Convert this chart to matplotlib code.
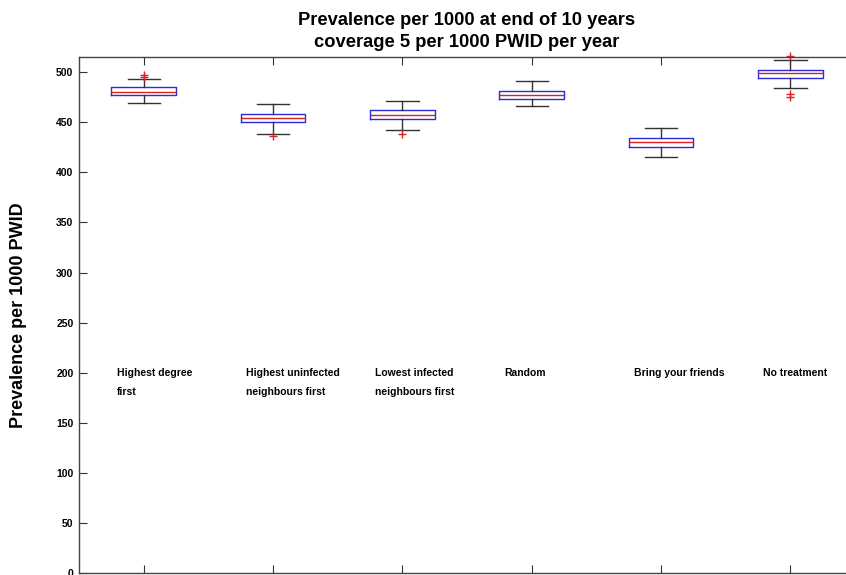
import matplotlib.pyplot as plt

# Strategy labels and the box summaries (prevalence per 1000 PWID)
strategies = [
    "Highest degree\nfirst",
    "Highest uninfected\nneighbours first",
    "Lowest infected\nneighbours first",
    "Random",
    "Bring your friends",
    "No treatment",
]
q1 = [476.8, 449.8, 452.8, 473.1, 425.2, 494.0]
medians = [480.4, 453.8, 457.4, 477.1, 429.9, 499.3]
q3 = [484.7, 458.4, 461.8, 481.1, 433.9, 502.0]
whisker_lo = [468.8, 437.9, 442.5, 465.8, 415.5, 484.3]
whisker_hi = [492.7, 467.8, 470.8, 491.3, 443.9, 512.0]
outliers = [[495.5, 497.0], [436.5], [437.9], [], [], [516.2, 475.5, 477.8]]

plt.rcParams["font.family"] = ["Liberation Sans", "DejaVu Sans"]

fig = plt.figure(figsize=(8.46, 5.75), dpi=100)
# axes runs past the right and bottom edge of the canvas
ax = fig.add_axes([79 / 846, 1.6 / 575, 776 / 846, 516.4 / 575])

stats = []
for i in range(len(strategies)):
    stats.append({
        "q1": q1[i], "med": medians[i], "q3": q3[i],
        "whislo": whisker_lo[i], "whishi": whisker_hi[i],
        "fliers": outliers[i],
    })

positions = list(range(1, len(strategies) + 1))
ax.bxp(
    stats, positions=positions, widths=0.5, showfliers=True,
    boxprops=dict(color="#2b2bd9", linewidth=1.0),
    medianprops=dict(color="#e02020", linewidth=1.0),
    whiskerprops=dict(color="#333333", linewidth=1.0),
    capprops=dict(color="#333333", linewidth=1.0),
    flierprops=dict(marker="+", markeredgecolor="#e02020", markersize=6,
                    linestyle="none", clip_on=False),
)

# category names sit inside the plot, one line per text, first line at 200
for pos, label in zip(positions, strategies):
    for k, line in enumerate(label.split("\n")):
        ax.text(pos - 0.21, 200 - 19 * k, line, ha="left", va="center",
                fontsize=7.5, fontweight="bold")

ax.set_xlim(0.5, 6.5)
ax.set_ylim(0, 515)
ax.set_yticks(range(0, 501, 50))
ax.set_xticks(positions)
ax.set_xticklabels([])
ax.tick_params(direction="in", length=6, top=True, right=True, colors="#333333",
               labelsize=7.5, labelcolor="black", pad=4)
for lab in ax.get_yticklabels():
    lab.set_fontweight("bold")
for side in ax.spines.values():
    side.set_color("#444444")
    side.set_linewidth(1.0)

ax.set_ylabel("Prevalence per 1000 PWID", fontsize=13, fontweight="bold")
ax.yaxis.set_label_coords(-0.067, 0.5)
ax.set_title("Prevalence per 1000 at end of 10 years\ncoverage 5 per 1000 PWID per year",
             fontsize=13.2, fontweight="bold", pad=7, linespacing=1.4)

fig.savefig("out.png", dpi=100)
